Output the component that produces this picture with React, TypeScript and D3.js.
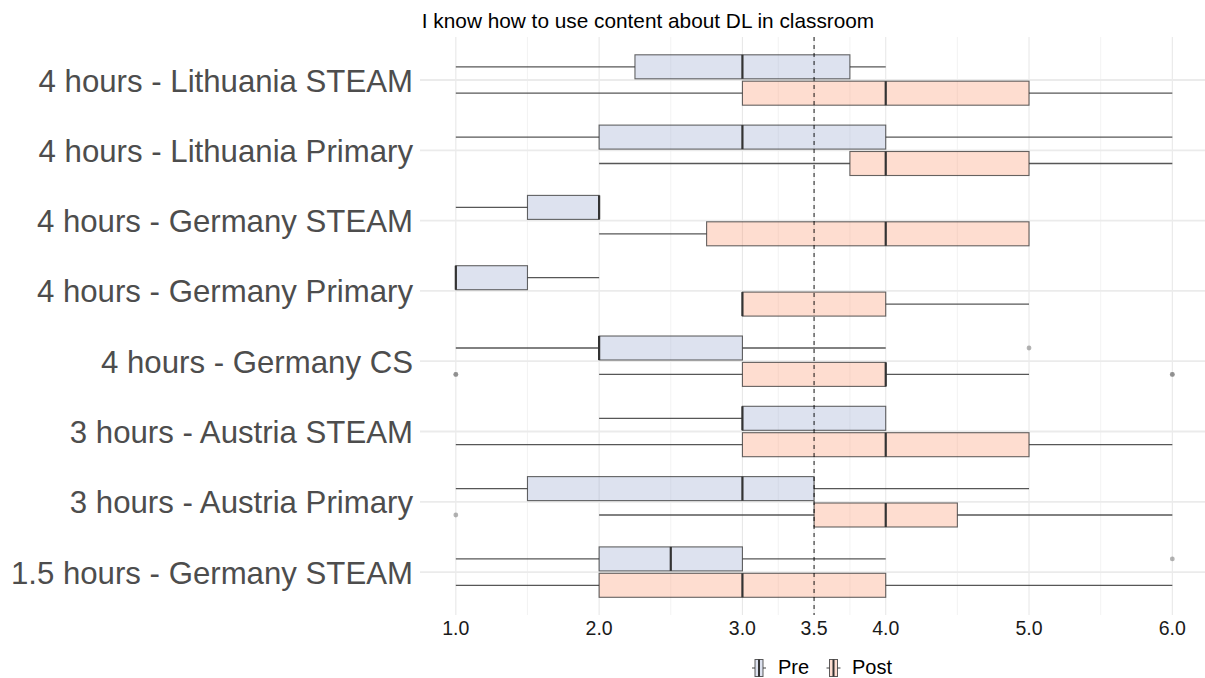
import React from "react";
import * as d3 from "d3";

const title = "I know how to use content about DL in classroom";
const categories = [
  "4 hours - Lithuania STEAM",
  "4 hours - Lithuania Primary",
  "4 hours - Germany STEAM",
  "4 hours - Germany Primary",
  "4 hours - Germany CS",
  "3 hours - Austria STEAM",
  "3 hours - Austria Primary",
  "1.5 hours - Germany STEAM",
];
// [lower whisker, Q1, median, Q3, upper whisker]
const preStats = [
  [1, 2.25, 3, 3.75, 4],
  [1, 2, 3, 4, 6],
  [1, 1.5, 2, 2, 2],
  [1, 1, 1, 1.5, 2],
  [1, 2, 2, 3, 4],
  [2, 3, 3, 4, 4],
  [1, 1.5, 3, 3.5, 5],
  [1, 2, 2.5, 3, 4],
];
const postStats = [
  [1, 3, 4, 5, 6],
  [2, 3.75, 4, 5, 6],
  [2, 2.75, 4, 5, 5],
  [3, 3, 3, 4, 5],
  [2, 3, 4, 4, 5],
  [1, 3, 4, 5, 6],
  [2, 3.5, 4, 4.5, 6],
  [1, 2, 3, 4, 6],
];
const preOutliers = [[], [], [], [], [5], [], [], [6]];
const postOutliers = [[], [], [], [], [1, 1, 6, 6], [], [1], []];
const majorTicks = [1, 2, 3, 3.5, 4, 5, 6];
const minorTicks = [1.5, 2.5, 3.25, 3.75, 4.5, 5.5];
const refLine = 3.5;
const groups = ["Pre", "Post"];
const groupColors = ["#8DA0CB", "#FC8D62"];

const FONT = "'Liberation Sans', Arial, Helvetica, sans-serif";

export default function App() {
  const W = 1205;
  const H = 678;
  const panelTop = 37;
  const panelBottom = 615;
  const panelLeft = 420;
  const x = d3.scaleLinear().domain([0.75, 6.25]).range([panelLeft, panelLeft + 5.5 * 143.3]);
  const y = d3.scalePoint<string>().domain(categories).range([80, 80 + 7 * 70.3]);
  const dodge = 13.2;
  const half = 12;

  const series = [
    { name: groups[0], stats: preStats, outliers: preOutliers, color: groupColors[0], off: -dodge },
    { name: groups[1], stats: postStats, outliers: postOutliers, color: groupColors[1], off: dodge },
  ];

  return (
    <div style={{ position: "absolute", left: 0, top: 0 }}>
      <svg width={W} height={H} style={{ display: "block", background: "#fff" }} fontFamily={FONT}>
        {/* grid */}
        {minorTicks.map((t) => (
          <line key={"mi" + t} x1={x(t)} x2={x(t)} y1={panelTop} y2={panelBottom} stroke="#f0f0f0" strokeWidth={0.8} />
        ))}
        {majorTicks.map((t) => (
          <line key={"ma" + t} x1={x(t)} x2={x(t)} y1={panelTop} y2={panelBottom} stroke="#e8e8e8" strokeWidth={1.1} />
        ))}
        {categories.map((c) => (
          <line key={"hg" + c} x1={panelLeft} x2={W} y1={y(c)} y2={y(c)} stroke="#ebebeb" strokeWidth={1.8} />
        ))}
        {/* boxes */}
        {series.map((s) =>
          categories.map((c, i) => {
            const [lo, q1, med, q3, hi] = s.stats[i];
            const cy = (y(c) as number) + s.off;
            return (
              <g key={s.name + c}>
                {lo < q1 && (
                  <line x1={x(lo)} x2={x(q1)} y1={cy} y2={cy} stroke="#3a3a3a" strokeWidth={1.3} strokeOpacity={0.85} />
                )}
                {hi > q3 && (
                  <line x1={x(q3)} x2={x(hi)} y1={cy} y2={cy} stroke="#3a3a3a" strokeWidth={1.3} strokeOpacity={0.85} />
                )}
                <rect
                  x={x(q1)}
                  y={cy - half}
                  width={x(q3) - x(q1)}
                  height={half * 2}
                  fill={s.color}
                  fillOpacity={0.3}
                  stroke="#333"
                  strokeOpacity={0.75}
                  strokeWidth={1.1}
                />
                <line x1={x(med)} x2={x(med)} y1={cy - half} y2={cy + half} stroke="#333" strokeWidth={2.2} />
                {s.outliers[i].map((o, k) => (
                  <circle key={k} cx={x(o)} cy={cy} r={2.4} fill="#777" fillOpacity={0.55} />
                ))}
              </g>
            );
          })
        )}
        {/* reference line */}
        <line
          x1={x(refLine)}
          x2={x(refLine)}
          y1={panelTop}
          y2={panelBottom}
          stroke="#000"
          strokeWidth={0.9}
          strokeDasharray="4,4"
        />
        {/* y labels */}
        {categories.map((c) => (
          <text key={"yl" + c} x={413} y={(y(c) as number) + 1} textAnchor="end" dominantBaseline="central" fontSize={31.2} fill="#4d4d4d">
            {c}
          </text>
        ))}
        {/* x labels */}
        {majorTicks.map((t) => (
          <text key={"xl" + t} x={x(t)} y={635} textAnchor="middle" fontSize={19.5} fill="#1a1a1a">
            {d3.format(".1f")(t)}
          </text>
        ))}
        {/* title */}
        <text x={648} y={28} textAnchor="middle" fontSize={20.8} fill="#000">
          {title}
        </text>
        {/* legend */}
        {series.map((s, i) => {
          const kx = i === 0 ? 752 : 826.5;
          const tx = i === 0 ? 778 : 852;
          return (
            <g key={"lg" + s.name}>
              <line x1={kx} x2={kx + 14} y1={668} y2={668} stroke="#444" strokeWidth={1} />
              <rect x={kx + 3} y={659.5} width={8} height={17} fill="#fff" />
              <rect x={kx + 3} y={659.5} width={8} height={17} fill={s.color} fillOpacity={0.3} stroke="#333" strokeOpacity={0.8} strokeWidth={1} />
              <line x1={kx + 7} x2={kx + 7} y1={659.5} y2={676.5} stroke="#333" strokeWidth={2} />
              <text x={tx} y={674} fontSize={20} fill="#000">
                {s.name}
              </text>
            </g>
          );
        })}
      </svg>
    </div>
  );
}
